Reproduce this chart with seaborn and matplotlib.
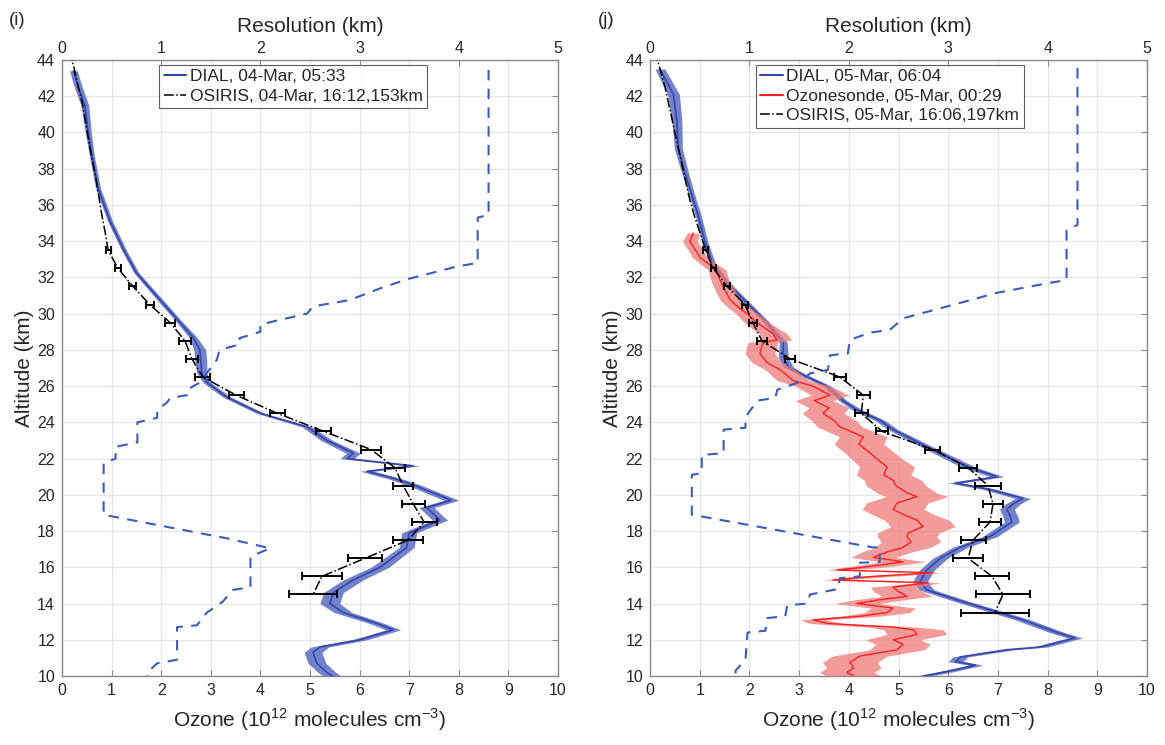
import numpy as np
import pandas as pd
import matplotlib
matplotlib.use("Agg")
import matplotlib.pyplot as plt
from matplotlib.lines import Line2D
import seaborn as sns

# ---------------- data ----------------
# Panel (i) DIAL, 04-Mar
dial_i_alt = [43.4, 42.5, 41.5, 40.0, 38.75, 36.9, 35.1, 33.5, 32.25, 30.75, 29.6, 28.7, 28.0, 27.3, 26.7, 26.2,
              25.4, 24.5, 23.75, 23.0, 22.3, 22.0, 21.6, 21.3, 20.9, 20.55, 19.7, 19.3, 18.6, 17.9, 17.1, 16.0,
              15.3, 14.6, 14.0, 13.5, 12.9, 12.55, 12.0, 11.6, 11.3, 10.7, 10.2, 10.0]
dial_i_val = [0.23, 0.33, 0.46, 0.53, 0.60, 0.73, 0.97, 1.25, 1.50, 1.98, 2.35, 2.64, 2.78, 2.80, 2.82, 2.92,
              3.32, 4.00, 4.94, 5.34, 5.87, 5.75, 7.08, 6.15, 6.70, 7.08, 7.85, 7.35, 7.62, 7.00, 6.95, 6.41,
              5.87, 5.47, 5.40, 5.67, 6.35, 6.68, 6.00, 5.20, 5.06, 5.14, 5.34, 5.45]
dial_i_err = [0.08, 0.08, 0.08, 0.06, 0.05, 0.05, 0.05, 0.05, 0.05, 0.06, 0.06, 0.08, 0.12, 0.12, 0.10, 0.08,
              0.08, 0.08, 0.10, 0.12, 0.14, 0.14, 0.14, 0.14, 0.14, 0.14, 0.15, 0.15, 0.15, 0.15, 0.15, 0.18,
              0.20, 0.20, 0.20, 0.18, 0.15, 0.15, 0.15, 0.18, 0.18, 0.18, 0.18, 0.18]

# Panel (i) OSIRIS, 04-Mar 16:12
osi_i_alt = [44.5, 43.5, 42.5, 41.5, 40.5, 39.5, 38.5, 37.5, 36.5, 35.5, 34.5, 33.5, 32.5, 31.5, 30.5, 29.5,
             28.5, 27.5, 26.5, 25.5, 24.5, 23.5, 22.5, 21.5, 20.5, 19.5, 18.5, 17.5, 16.5, 15.5, 14.5]
osi_i_val = [0.15, 0.25, 0.33, 0.42, 0.48, 0.54, 0.61, 0.68, 0.74, 0.80, 0.87, 0.93, 1.13, 1.43, 1.77, 2.18,
             2.48, 2.62, 2.84, 3.51, 4.34, 5.28, 6.23, 6.71, 6.88, 7.08, 7.30, 6.98, 6.11, 5.24, 5.06]
osi_i_err = [0.02, 0.02, 0.02, 0.02, 0.02, 0.02, 0.02, 0.03, 0.03, 0.03, 0.04, 0.05, 0.06, 0.07, 0.08, 0.10,
             0.12, 0.12, 0.15, 0.15, 0.15, 0.15, 0.20, 0.20, 0.20, 0.23, 0.25, 0.30, 0.34, 0.40, 0.49]

# Panel (i) vertical resolution (km)
res_i_alt = [43.45, 35.45, 35.3, 32.8, 32.6, 31.9, 31.4, 30.75, 30.4, 30.0, 29.75, 29.4, 29.0, 28.65, 28.3, 28.0,
             27.45, 26.2, 25.8, 25.5, 25.35, 25.1, 24.7, 24.25, 24.0, 22.9, 22.65, 22.0, 21.75, 18.9, 17.6, 17.05,
             16.6, 14.9, 14.75, 14.1, 13.5, 12.8, 12.7, 10.9, 10.7, 10.2, 10.0]
res_i_val = [4.30, 4.30, 4.19, 4.19, 3.98, 3.48, 3.21, 2.90, 2.53, 2.47, 2.27, 2.00, 2.00, 1.79, 1.79, 1.59,
             1.56, 1.39, 1.26, 1.26, 1.09, 1.06, 0.96, 0.96, 0.76, 0.76, 0.54, 0.54, 0.42, 0.42, 1.66, 2.10,
             1.90, 1.90, 1.72, 1.62, 1.46, 1.36, 1.16, 1.16, 0.96, 0.86, 0.86]

# Panel (j) DIAL, 05-Mar
dial_j_alt = [43.5, 42.1, 40.6, 39.1, 37.8, 36.55, 35.4, 34.0, 32.8, 31.7, 30.6, 29.5, 28.4, 27.6, 27.05, 26.7,
              26.0, 25.2, 24.7, 24.1, 23.6, 22.65, 21.75, 21.5, 21.0, 20.65, 20.3, 19.8, 19.5, 19.2, 18.8, 18.5,
              17.7, 17.1, 16.5, 15.85, 15.2, 14.75, 14.2, 13.65, 13.1, 12.4, 12.1, 11.6, 11.45, 11.05, 10.8, 10.6,
              10.25, 10.0]
dial_j_val = [0.20, 0.47, 0.54, 0.57, 0.70, 0.84, 0.97, 1.10, 1.25, 1.55, 1.95, 2.35, 2.68, 2.68, 2.78, 3.02,
              3.56, 3.88, 4.16, 4.63, 4.89, 5.57, 6.24, 6.44, 6.98, 6.14, 6.84, 7.50, 7.30, 7.18, 7.25, 7.28,
              6.84, 6.24, 5.84, 5.57, 5.43, 5.57, 6.18, 6.84, 7.50, 8.19, 8.55, 7.85, 7.18, 6.24, 6.15, 6.55,
              5.98, 5.50]
dial_j_err = [0.10, 0.12, 0.10, 0.08, 0.07, 0.06, 0.06, 0.06, 0.06, 0.06, 0.06, 0.06, 0.08, 0.10, 0.10, 0.08,
              0.08, 0.08, 0.10, 0.10, 0.10, 0.12, 0.14, 0.14, 0.14, 0.14, 0.14, 0.15, 0.15, 0.15, 0.15, 0.15,
              0.15, 0.15, 0.15, 0.15, 0.15, 0.15, 0.15, 0.15, 0.15, 0.15, 0.15, 0.15, 0.15, 0.15, 0.15, 0.15,
              0.15, 0.15]

# Panel (j) ozonesonde, 05-Mar 00:29
sonde_alt = [34.45, 34.0, 33.35, 33.1, 32.4, 31.9, 31.5, 30.75, 30.3, 30.0, 29.5, 28.9, 28.55, 28.4, 27.8, 27.3,
             26.9, 26.3, 26.0, 25.5, 25.2, 24.8, 24.5, 24.1, 23.75, 23.2, 22.8, 22.3, 21.9, 21.55, 21.1, 20.8,
             20.5, 20.1, 19.9, 19.55, 19.2, 18.9, 18.6, 18.25, 17.9, 17.7, 17.4, 17.1, 16.85, 16.55, 16.3, 16.0,
             15.85, 15.7, 15.5, 15.3, 15.15, 14.9, 14.65, 14.4, 14.2, 14.0, 13.75, 13.5, 13.3, 13.1, 12.9, 12.7,
             12.55, 12.3, 12.0, 11.75, 11.45, 11.1, 10.75, 10.45, 10.2, 10.0]
sonde_val = [0.87, 0.80, 0.95, 1.00, 1.35, 1.40, 1.47, 1.61, 1.80, 1.95, 2.15, 2.47, 2.55, 2.27, 2.21, 2.35,
             2.62, 2.88, 3.28, 3.62, 3.30, 3.60, 3.48, 3.70, 3.82, 4.29, 4.20, 4.43, 4.60, 4.77, 4.70, 4.89,
             4.95, 5.17, 5.37, 4.97, 4.89, 5.10, 5.37, 5.49, 5.20, 5.17, 5.25, 5.09, 4.77, 4.49, 5.09, 4.29,
             3.76, 5.69, 4.49, 3.68, 5.60, 4.89, 5.00, 5.17, 4.60, 4.16, 4.89, 4.77, 4.22, 3.28, 3.56, 4.89,
             5.30, 5.37, 4.89, 5.09, 4.97, 4.22, 4.02, 4.10, 3.96, 4.10]
sonde_err = [0.12, 0.15, 0.15, 0.15, 0.18, 0.18, 0.20, 0.20, 0.22, 0.22, 0.25, 0.28, 0.30, 0.30, 0.30, 0.30,
             0.30, 0.32, 0.35, 0.38, 0.38, 0.40, 0.42, 0.45, 0.45, 0.48, 0.50, 0.50, 0.52, 0.55, 0.55, 0.58,
             0.60, 0.60, 0.62, 0.62, 0.62, 0.62, 0.65, 0.65, 0.62, 0.60, 0.60, 0.55, 0.50, 0.45, 0.45, 0.40,
             0.20, 0.20, 0.40, 0.20, 0.25, 0.45, 0.50, 0.50, 0.50, 0.45, 0.45, 0.45, 0.40, 0.25, 0.35, 0.50,
             0.60, 0.60, 0.55, 0.55, 0.55, 0.55, 0.55, 0.55, 0.55, 0.55]

# Panel (j) OSIRIS, 05-Mar 16:06
osi_j_alt = [44.5, 43.5, 42.5, 41.5, 40.5, 39.5, 38.5, 37.5, 36.5, 35.5, 34.5, 33.5, 32.5, 31.5, 30.5, 29.5,
             28.5, 27.5, 26.5, 25.5, 24.5, 23.5, 22.5, 21.5, 20.5, 19.5, 18.5, 17.5, 16.5, 15.5, 14.5, 13.5]
osi_j_val = [0.10, 0.20, 0.30, 0.38, 0.46, 0.54, 0.62, 0.70, 0.78, 0.88, 1.00, 1.12, 1.27, 1.55, 1.91, 2.07,
             2.25, 2.82, 3.82, 4.29, 4.25, 4.67, 5.69, 6.40, 6.80, 6.90, 6.84, 6.50, 6.40, 6.88, 7.10, 6.94]
osi_j_err = [0.02, 0.02, 0.02, 0.02, 0.02, 0.02, 0.02, 0.03, 0.03, 0.03, 0.04, 0.05, 0.05, 0.06, 0.07, 0.08,
             0.10, 0.10, 0.12, 0.13, 0.13, 0.12, 0.15, 0.18, 0.27, 0.20, 0.22, 0.25, 0.30, 0.35, 0.55, 0.69]

# error bars are shown only below this altitude (km)
osi_bar_top = 33.6

# Panel (j) vertical resolution (km)
res_j_alt = [43.55, 34.9, 34.6, 31.85, 31.7, 31.15, 30.4, 29.75, 29.1, 28.95, 28.55, 27.8, 27.7, 26.9, 26.7,
             26.2, 25.8, 25.35, 25.2, 24.3, 23.7, 23.6, 22.3, 22.2, 21.2, 21.1, 18.9, 17.1, 17.1, 16.3, 16.25,
             15.5, 15.4, 14.8, 14.5, 14.0, 13.9, 13.3, 13.2, 12.5, 12.4, 10.9, 10.3, 10.0]
res_j_val = [4.30, 4.30, 4.19, 4.19, 4.02, 3.49, 2.99, 2.55, 2.41, 2.21, 2.01, 1.99, 1.81, 1.79, 1.61,
             1.49, 1.28, 1.26, 1.08, 0.96, 0.96, 0.74, 0.74, 0.52, 0.52, 0.42, 0.42, 2.24, 2.31, 2.31, 2.11,
             2.11, 1.91, 1.89, 1.61, 1.58, 1.38, 1.36, 1.18, 1.16, 0.98, 0.96, 0.86, 0.86]

ozone_ticks = list(range(0, 11))
alt_ticks = list(range(10, 45, 2))
res_ticks = list(range(0, 6))

# ---------------- style ----------------
sns.set_style("white")
plt.rcParams['font.family'] = ['Liberation Sans', 'DejaVu Sans']
plt.rcParams['mathtext.fontset'] = 'custom'
plt.rcParams['mathtext.rm'] = 'Liberation Sans'

DIAL_LINE = '#3547a8'
DIAL_BAND = '#5b6cc4'
SONDE_LINE = '#ff1e1e'
SONDE_BAND = '#ef7a7a'
RES_COLOR = '#3a5cc0'
GRID = '#e6e6e6'
SPINE = '#8a8a8a'
TXT = '#262626'

fig = plt.figure(figsize=(11.65, 7.45), dpi=100)
ax_i = fig.add_axes([0.0532, 0.0926, 0.4258, 0.8269])
ax_j = fig.add_axes([0.558, 0.0926, 0.4266, 0.8269])


def band(ax, alt, val, err, color, alpha, z):
    a = np.asarray(alt); v = np.asarray(val); e = np.asarray(err)
    ax.fill_betweenx(a, v - e, v + e, color=color, alpha=alpha, lw=0, zorder=z)


def osiris(ax, alt, val, err):
    df = pd.DataFrame({'alt': alt, 'val': val, 'err': err})
    sns.lineplot(data=df, x='val', y='alt', sort=False, estimator=None, ax=ax,
                 color='black', lw=1.1, linestyle='-.', zorder=6, legend=False)
    sub = df[df['alt'] <= osi_bar_top]
    return ax.errorbar(sub['val'], sub['alt'], xerr=sub['err'], fmt='none', ecolor='black',
                       elinewidth=1.4, capsize=3, capthick=1.4, zorder=7)


def setup(ax, alt_r, res_r):
    ax.set_xlim(0, 10)
    ax.set_ylim(10, 44)
    ax.set_xticks(ozone_ticks)
    ax.set_yticks(alt_ticks)
    ax.grid(True, color=GRID, lw=0.9)
    ax.set_axisbelow(True)
    for s in ax.spines.values():
        s.set_color(SPINE)
        s.set_linewidth(1.0)
    ax.tick_params(direction='in', length=4, width=0.8, color=SPINE, labelsize=11.5,
                   labelcolor=TXT, top=True, right=True, pad=5)
    ax.set_xlabel(r'Ozone (10$^{12}$ molecules cm$^{-3}$)', fontsize=15, color=TXT, labelpad=6)
    ax.set_ylabel('Altitude (km)', fontsize=15, color=TXT, labelpad=2)
    tw = ax.twiny()
    tw.set_xlim(0, 5)
    tw.set_xticks(res_ticks)
    tw.tick_params(direction='in', length=4, width=0.8, color=SPINE, labelsize=11.5,
                   labelcolor=TXT, pad=3)
    for s in tw.spines.values():
        s.set_visible(False)
    rdf = pd.DataFrame({'alt': alt_r, 'res': res_r})
    sns.lineplot(data=rdf, x='res', y='alt', sort=False, estimator=None, ax=tw,
                 color=RES_COLOR, lw=1.5, linestyle=(0, (5, 4)), legend=False)
    tw.set_ylim(10, 44)
    tw.set_xlabel('Resolution (km)', fontsize=15, color=TXT, labelpad=6)
    tw.set_ylabel('')
    return tw


# ----- panel (i)
band(ax_i, dial_i_alt, dial_i_val, dial_i_err, DIAL_BAND, 0.85, 3)
sns.lineplot(x=dial_i_val, y=dial_i_alt, sort=False, estimator=None, ax=ax_i,
             color=DIAL_LINE, lw=1.2, zorder=4)
eb_i = osiris(ax_i, osi_i_alt, osi_i_val, osi_i_err)
setup(ax_i, res_i_alt, res_i_val)
h_dial = Line2D([], [], color=DIAL_LINE, lw=1.5)
h_sonde = Line2D([], [], color=SONDE_LINE, lw=1.5)
h_osi = Line2D([], [], color='black', lw=1.1, linestyle='-.')
leg = ax_i.legend([h_dial, h_osi], ['DIAL, 04-Mar, 05:33', 'OSIRIS, 04-Mar, 16:12,153km'],
                  loc='upper left', bbox_to_anchor=(0.196, 0.992), fontsize=12.5, frameon=True,
                  fancybox=False, edgecolor='#333333', handlelength=1.3, handletextpad=0.2,
                  borderpad=0.25, labelspacing=0.25, borderaxespad=0.0)
leg.get_frame().set_linewidth(0.8)
leg.set_zorder(20)

# ----- panel (j)
band(ax_j, dial_j_alt, dial_j_val, dial_j_err, DIAL_BAND, 0.85, 3)
sns.lineplot(x=dial_j_val, y=dial_j_alt, sort=False, estimator=None, ax=ax_j,
             color=DIAL_LINE, lw=1.2, zorder=4)
band(ax_j, sonde_alt, sonde_val, sonde_err, SONDE_BAND, 0.75, 4.5)
sns.lineplot(x=sonde_val, y=sonde_alt, sort=False, estimator=None, ax=ax_j,
             color=SONDE_LINE, lw=1.0, zorder=5)
eb_j = osiris(ax_j, osi_j_alt, osi_j_val, osi_j_err)
setup(ax_j, res_j_alt, res_j_val)
leg = ax_j.legend([h_dial, h_sonde, h_osi],
                  ['DIAL, 05-Mar, 06:04', 'Ozonesonde, 05-Mar, 00:29', 'OSIRIS, 05-Mar, 16:06,197km'],
                  loc='upper left', bbox_to_anchor=(0.213, 0.992), fontsize=12.5, frameon=True,
                  fancybox=False, edgecolor='#333333', handlelength=1.3, handletextpad=0.2,
                  borderpad=0.25, labelspacing=0.25, borderaxespad=0.0)
leg.get_frame().set_linewidth(0.8)
leg.set_zorder(20)

fig.text(0.008, 0.972, '(i)', fontsize=13.5, color=TXT, ha='left', va='center')
fig.text(0.513, 0.972, '(j)', fontsize=13.5, color=TXT, ha='left', va='center')

fig.savefig('out.png', dpi=100)
